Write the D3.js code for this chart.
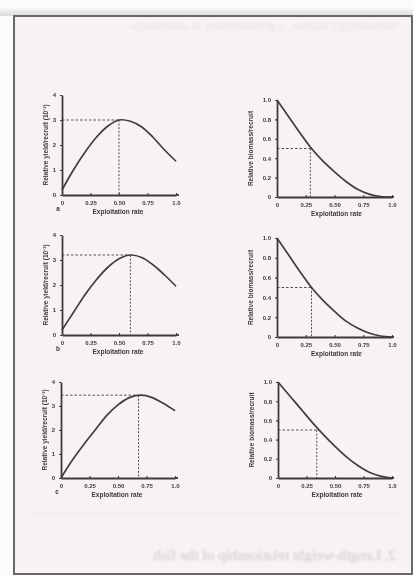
<!DOCTYPE html>
<html>
<head>
<meta charset="utf-8">
<script src="https://cdn.jsdelivr.net/npm/d3@7"></script>
<style>
  html, body { margin: 0; padding: 0; background: #f4f2f1; }
  svg { display: block; }
</style>
</head>
<body>
<div id="chart"></div>
<script>
// exploitation rate grid shared by all curves
const ex_ra = [0, 0.1, 0.2, 0.3, 0.4, 0.5, 0.6, 0.7, 0.8, 0.9, 1.0];

// relative yield per recruit (x 10^-3), panels a, b, c
const yi_a = [0.2, 1.0, 1.7, 2.3, 2.75, 3.0, 2.95, 2.72, 2.3, 1.8, 1.35];
const yi_b = [0.2, 0.9, 1.6, 2.2, 2.7, 3.05, 3.2, 3.1, 2.8, 2.4, 1.95];
const yi_c = [0.0, 0.75, 1.4, 2.0, 2.6, 3.05, 3.35, 3.45, 3.35, 3.1, 2.8];

// relative biomass per recruit, panels a, b, c
const bi_a = [1.0, 0.83, 0.66, 0.5, 0.37, 0.26, 0.16, 0.08, 0.03, 0.005, 0.0];
const bi_b = [1.0, 0.83, 0.66, 0.5, 0.37, 0.26, 0.16, 0.09, 0.04, 0.01, 0.0];
const bi_c = [1.0, 0.86, 0.72, 0.58, 0.45, 0.33, 0.22, 0.13, 0.06, 0.02, 0.0];

// optimum points marked with dashed lines
const ma_ex = [0.5, 0.6, 0.68];
const ma_yi = [3.0, 3.2, 3.45];
const ha_ex = [0.29, 0.3, 0.34];
const ha_bi = [0.5, 0.5, 0.5];

const pa_la = ['a', 'b', 'c'];
const x_ti = [0, 0.25, 0.5, 0.75, 1.0];
const x_tl = ['0', '0.25', '0.50', '0.75', '1.0'];
const yi_ti = [0, 1, 2, 3, 4];
const bi_ti = [0, 0.2, 0.4, 0.6, 0.8, 1.0];
const bi_tl = ['0', '0.2', '0.4', '0.6', '0.8', '1.0'];

const width = 413, height = 576;
const ink = '#3c3a3a';

const svg = d3.select('#chart').append('svg')
  .attr('width', width)
  .attr('height', height);

const defs = svg.append('defs');
defs.append('filter').attr('id', 'scan')
  .append('feGaussianBlur').attr('stdDeviation', 0.7);
defs.append('filter').attr('id', 'soft')
  .append('feGaussianBlur').attr('stdDeviation', 1.1);
const edge = defs.append('linearGradient').attr('id', 'topband')
  .attr('x1', 0).attr('x2', 0).attr('y1', 0).attr('y2', 1);
edge.append('stop').attr('offset', 0).attr('stop-color', '#fbfbfb');
edge.append('stop').attr('offset', 1).attr('stop-color', '#dcdada');

// page and frame
svg.append('rect').attr('width', width).attr('height', height).attr('fill', '#fbfbfb');
svg.append('rect').attr('x', 0).attr('y', 7).attr('width', width).attr('height', 9)
  .attr('fill', 'url(#topband)');
svg.append('rect').attr('x', 14).attr('y', 16).attr('width', 398).attr('height', 558)
  .attr('fill', '#f8f3f3')
  .attr('stroke', '#6a6868').attr('stroke-width', 2)
  .attr('filter', 'url(#scan)');

// bleed-through from the back of the page
const ghost = svg.append('g').attr('filter', 'url(#soft)');
ghost.append('text')
  .attr('transform', 'translate(397,30) scale(-1,1)')
  .attr('font-family', 'Liberation Serif, serif')
  .attr('font-size', 13).attr('fill', '#e8e2e2')
  .text('mulvaneygli olalvae, a gvilitomblavs ia anottonupo');
ghost.append('text')
  .attr('transform', 'translate(396,560) scale(-1,1)')
  .attr('font-family', 'Liberation Serif, serif')
  .attr('font-size', 15).attr('fill', '#cfc8c8')
  .text('2. Length-weight relationship of the fish');
ghost.append('line')
  .attr('x1', 30).attr('x2', 398).attr('y1', 514).attr('y2', 514)
  .attr('stroke', '#e6e1e1').attr('stroke-width', 1);

const plot = svg.append('g').attr('filter', 'url(#scan)')
  .attr('font-family', 'Liberation Sans, Arial, sans-serif')
  .attr('font-weight', 'bold')
  .attr('fill', ink);

const le_pa = [
  { x0: 62, x1: 176, yt: 95, yb: 195, yi: yi_a },
  { x0: 62, x1: 176, yt: 235, yb: 335, yi: yi_b },
  { x0: 61, x1: 175, yt: 382, yb: 478, yi: yi_c }
];
const ri_pa = [
  { x0: 277, x1: 392, yt: 100, yb: 197, bi: bi_a },
  { x0: 277, x1: 392, yt: 238, yb: 337, bi: bi_b },
  { x0: 278, x1: 392, yt: 382, yb: 478, bi: bi_c }
];

function dr_ax(g, x_sc, y_sc, y_tv, y_tf) {
  const xa = g.append('g')
    .attr('transform', `translate(0,${y_sc.range()[0]})`)
    .call(d3.axisBottom(x_sc).tickValues(x_ti).tickFormat((d, i) => x_tl[i])
      .tickSizeInner(-2).tickSizeOuter(0).tickPadding(6));
  const ya = g.append('g')
    .attr('transform', `translate(${x_sc.range()[0]},0)`)
    .call(d3.axisLeft(y_sc).tickValues(y_tv).tickFormat(y_tf)
      .tickSizeInner(2).tickSizeOuter(0).tickPadding(4));
  [xa, ya].forEach(a => {
    a.select('.domain').attr('stroke', ink).attr('stroke-width', 1.8);
    a.selectAll('.tick line').attr('stroke', ink).attr('stroke-width', 1.1);
    a.selectAll('.tick text')
      .attr('fill', ink).attr('font-size', 6).attr('font-weight', 'bold')
      .attr('font-family', 'Liberation Sans, Arial, sans-serif');
  });
}

function dr_cu(g, x_sc, y_sc, vals) {
  const line = d3.line()
    .x((d, i) => x_sc(ex_ra[i]))
    .y(d => y_sc(d))
    .curve(d3.curveCatmullRom.alpha(0.5));
  g.append('path').datum(vals)
    .attr('d', line)
    .attr('fill', 'none')
    .attr('stroke', '#403e3e')
    .attr('stroke-width', 1.7);
}

function dr_da(g, x_sc, y_sc, ex, val) {
  g.append('line')
    .attr('x1', x_sc(0)).attr('x2', x_sc(ex))
    .attr('y1', y_sc(val)).attr('y2', y_sc(val))
    .attr('stroke', '#505050').attr('stroke-width', 1)
    .attr('stroke-dasharray', '2.5,2');
  g.append('line')
    .attr('x1', x_sc(ex)).attr('x2', x_sc(ex))
    .attr('y1', y_sc(val)).attr('y2', y_sc(0))
    .attr('stroke', '#505050').attr('stroke-width', 1)
    .attr('stroke-dasharray', '2,1.6');
}

le_pa.forEach((p, k) => {
  const g = plot.append('g');
  const x_sc = d3.scaleLinear().domain([0, 1]).range([p.x0, p.x1]);
  const y_sc = d3.scaleLinear().domain([0, 4]).range([p.yb, p.yt]);

  dr_da(g, x_sc, y_sc, ma_ex[k], ma_yi[k]);
  dr_cu(g, x_sc, y_sc, p.yi);
  dr_ax(g, x_sc, y_sc, yi_ti, d => d);

  g.append('line')
    .attr('x1', x_sc(1)).attr('x2', x_sc(1) + 3)
    .attr('y1', p.yb).attr('y2', p.yb)
    .attr('stroke', ink).attr('stroke-width', 1.8);

  g.append('text')
    .attr('x', (p.x0 + p.x1) / 2 - 1).attr('y', p.yb + 19)
    .attr('text-anchor', 'middle').attr('font-size', 6.5)
    .text('Exploitation rate');

  g.append('text')
    .attr('transform', `translate(${p.x0 - 14},${(p.yt + p.yb) / 2}) rotate(-90)`)
    .attr('text-anchor', 'middle').attr('font-size', 6.5)
    .text('Relative yield/recruit (10\u207B\u00B3)');

  g.append('text')
    .attr('x', p.x0 - 4).attr('y', p.yb + 16)
    .attr('text-anchor', 'middle').attr('font-size', 6.5)
    .text(pa_la[k]);
});

ri_pa.forEach((p, k) => {
  const g = plot.append('g');
  const x_sc = d3.scaleLinear().domain([0, 1]).range([p.x0, p.x1]);
  const y_sc = d3.scaleLinear().domain([0, 1]).range([p.yb, p.yt]);

  dr_da(g, x_sc, y_sc, ha_ex[k], ha_bi[k]);
  dr_cu(g, x_sc, y_sc, p.bi);
  dr_ax(g, x_sc, y_sc, bi_ti, (d, i) => bi_tl[i]);

  g.append('line')
    .attr('x1', x_sc(1)).attr('x2', x_sc(1) + 2)
    .attr('y1', p.yb).attr('y2', p.yb)
    .attr('stroke', ink).attr('stroke-width', 1.8);

  g.append('text')
    .attr('x', (p.x0 + p.x1) / 2 + 2).attr('y', p.yb + 19)
    .attr('text-anchor', 'middle').attr('font-size', 6.5)
    .text('Exploitation rate');

  g.append('text')
    .attr('transform', `translate(${p.x0 - 24},${(p.yt + p.yb) / 2}) rotate(-90)`)
    .attr('text-anchor', 'middle').attr('font-size', 6.5)
    .text('Relative biomass/recruit');
});
</script>
</body>
</html>
